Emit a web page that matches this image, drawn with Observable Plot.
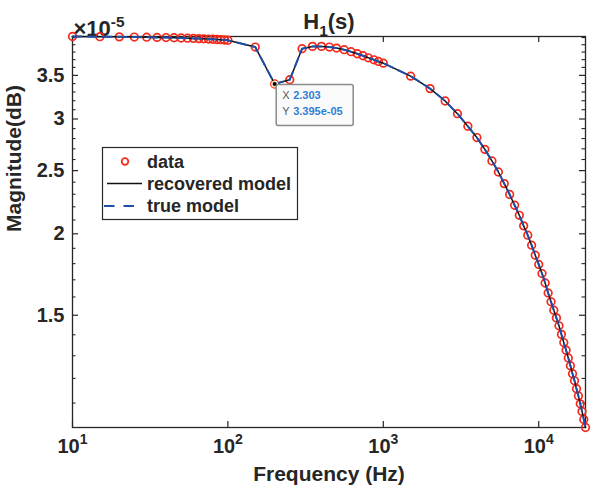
<!DOCTYPE html>
<html><head><meta charset="utf-8">
<script src="https://cdn.jsdelivr.net/npm/d3@7"></script>
<script src="https://cdn.jsdelivr.net/npm/@observablehq/plot@0.6"></script>
<style>
body{margin:0;background:#fff;}
#chart{width:591px;height:493px;}
</style></head><body><div id="chart"></div>
<script>
// Frequencies (Hz)
const freq = [10,15,20,25,30,35,40,45,50,55,60,65,70,75,80,85,90,95,100,
  150,200,250,
  300,350,400,450,500,560,620,680,740,800,870,930,1000,
  1500,2000,2500,3000,3500,4000,4500,5000,5500,6000,6500,7000,7500,8000,8500,9000,9500,10000,
  10500,11000,11500,12000,12500,13000,13500,14000,14500,15000,15500,16000,16500,17000,17500,18000,18500,19000,19500,20000];
// Magnitude (x 1e-5)
const mag = [4.015,4.012,4.010,4.007,4.005,4.002,4.000,3.997,3.994,3.991,3.988,3.985,3.982,3.979,3.976,3.973,3.970,3.966,3.962,
  3.868,3.395,3.447,
  3.846,3.877,3.877,3.868,3.854,3.832,3.805,3.778,3.751,3.724,3.698,3.676,3.654,
  3.490,3.340,3.197,3.057,2.924,2.810,2.695,2.587,2.488,2.388,2.298,2.212,2.135,2.057,1.990,1.921,1.854,1.795,
  1.738,1.681,1.623,1.573,1.527,1.486,1.445,1.402,1.362,1.326,1.290,1.255,1.220,1.190,1.157,1.128,1.097,1.068,1.038,1.009];
const recovered = mag.slice();
const trueModel = mag.slice();

const xTicks = [10, 100, 1000, 10000];
const xTickLabels = ["10^{1}", "10^{2}", "10^{3}", "10^{4}"];
const yTicks = [1.5, 2, 2.5, 3, 3.5];
const yTickLabels = ["1.5", "2", "2.5", "3", "3.5"];
const yMinorTicks = [1.1,1.2,1.3,1.4,1.6,1.7,1.8,1.9,2.1,2.2,2.3,2.4,2.6,2.7,2.8,2.9,3.1,3.2,3.3,3.4,3.6,3.7,3.8,3.9,4.0];
const legendLabels = ["data", "recovered model", "true model"];
const titleText = "H_{1}(s)";
const exponentText = "×10^{-5}";
const xLabel = "Frequency (Hz)";
const yLabel = "Magnitude(dB)";
const tipFreq = 200, tipMag = 3.395;
const tipLines = [["X", "2.303"], ["Y", "3.395e-05"]];

const W = 591, H = 493, mL = 72, mR = 6, mT = 36, mB = 66;
const plotW = W - mL - mR, plotH = H - mT - mB;
const axisColor = "#262626";
const red = "#f2291b", blue = "#1f4ea6", black = "#111111";
const font = "'Liberation Sans', Arial, Helvetica, sans-serif";

const rows = freq.map((f, i) => ({f, m: mag[i], rec: recovered[i], tru: trueModel[i]}));

const plot = Plot.plot({
  width: W, height: H,
  marginLeft: mL, marginRight: mR, marginTop: mT, marginBottom: mB,
  style: {fontFamily: font, fontWeight: "bold", background: "white", color: axisColor},
  x: {type: "log", domain: [10, 20000], axis: null},
  y: {type: "log", domain: d3.extent(mag), axis: null},
  marks: [
    Plot.frame({stroke: axisColor, strokeWidth: 1.3}),
    Plot.tickX(xTicks, {x: d => d, insetTop: plotH - 6, stroke: axisColor, strokeWidth: 1.2}),
    Plot.tickX(xTicks, {x: d => d, insetBottom: plotH - 6, stroke: axisColor, strokeWidth: 1.2}),
    Plot.tickY(yTicks, {y: d => d, insetRight: plotW - 6, stroke: axisColor, strokeWidth: 1.2}),
    Plot.tickY(yTicks, {y: d => d, insetLeft: plotW - 6, stroke: axisColor, strokeWidth: 1.2}),
    Plot.tickY(yMinorTicks, {y: d => d, insetRight: plotW - 3.5, stroke: axisColor, strokeWidth: 1.1}),
    Plot.tickY(yMinorTicks, {y: d => d, insetLeft: plotW - 3.5, stroke: axisColor, strokeWidth: 1.1}),
    Plot.text(xTicks, {x: d => d, text: (d, i) => xTickLabels[i], frameAnchor: "bottom", dy: 25, fontSize: 20, fontWeight: "bold", fill: axisColor}),
    Plot.text(yTicks, {y: d => d, text: (d, i) => yTickLabels[i], frameAnchor: "left", dx: -8, textAnchor: "end", fontSize: 20, fontWeight: "bold", fill: axisColor}),
    Plot.text([xLabel], {frameAnchor: "bottom", dy: 53, fontSize: 21, fontWeight: "bold", fill: axisColor}),
    Plot.text([yLabel], {frameAnchor: "left", dx: -58, rotate: -90, fontSize: 21, fontWeight: "bold", fill: axisColor}),
    Plot.text([titleText], {frameAnchor: "top", dy: -23, fontSize: 22, fontWeight: "bold", fill: axisColor}),
    Plot.text([exponentText], {frameAnchor: "top-left", dx: 1, dy: -16, textAnchor: "start", fontSize: 22, fontWeight: "bold", fill: axisColor}),
    Plot.dot(rows, {x: "f", y: "m", r: 3.8, stroke: red, strokeWidth: 1.7, fill: "none"}),
    Plot.line(rows, {x: "f", y: "rec", stroke: black, strokeWidth: 1.5}),
    Plot.line(rows, {x: "f", y: "tru", stroke: blue, strokeWidth: 2, strokeDasharray: "9,6"}),
    Plot.dot([0], {x: () => tipFreq, y: () => tipMag, r: 3.6, fill: "#f4dfc0", stroke: "none"}),
    Plot.dot([0], {x: () => tipFreq, y: () => tipMag, r: 2, fill: "#000"})
  ]
});

// superscript / subscript markup -> tspans
const NS = "http://www.w3.org/2000/svg";
plot.querySelectorAll("text").forEach(t => {
  const s = t.textContent;
  if (!/[\^_]\{/.test(s)) return;
  t.textContent = "";
  const re = /([\^_])\{([^}]*)\}/g;
  let last = 0, m, pending = 0;
  const add = (txt, attrs) => {
    const ts = document.createElementNS(NS, "tspan");
    ts.textContent = txt;
    for (const k in attrs) ts.setAttribute(k, attrs[k]);
    t.appendChild(ts);
  };
  while ((m = re.exec(s))) {
    if (m.index > last) add(s.slice(last, m.index), pending ? {dy: pending + "em"} : {}), pending = 0;
    const k = m[1] === "^" ? -0.6 : 0.45;
    add(m[2], {dy: k + "em", "font-size": "70%"});
    pending = -k * 0.7;
    last = re.lastIndex;
  }
  if (last < s.length) add(s.slice(last), pending ? {dy: pending + "em"} : {});
});

const svg = d3.select(plot);
// Legend
const lg = svg.append("g").attr("font-family", font).attr("font-weight", "bold").attr("font-size", 18).attr("fill", axisColor);
lg.append("rect").attr("x", 102.5).attr("y", 147.5).attr("width", 195).attr("height", 72)
  .attr("fill", "white").attr("stroke", axisColor).attr("stroke-width", 1.2);
const ly = [161.5, 183.5, 206];
lg.append("circle").attr("cx", 125).attr("cy", ly[0]).attr("r", 3.3).attr("fill", "none").attr("stroke", red).attr("stroke-width", 1.7);
lg.append("line").attr("x1", 107).attr("x2", 142).attr("y1", ly[1]).attr("y2", ly[1]).attr("stroke", black).attr("stroke-width", 1.5);
lg.append("line").attr("x1", 104).attr("x2", 142).attr("y1", ly[2]).attr("y2", ly[2]).attr("stroke", blue).attr("stroke-width", 2).attr("stroke-dasharray", "10.5,9");
legendLabels.forEach((lab, i) => {
  lg.append("text").attr("x", 147).attr("y", ly[i]).attr("dy", "0.35em").attr("text-anchor", "start").text(lab);
});

// Data tip
const px = plot.scale("x").apply(tipFreq), py = plot.scale("y").apply(tipMag);
const tg = svg.append("g").attr("font-family", font).attr("font-size", 11);
tg.append("rect").attr("x", px + 2).attr("y", py + 1).attr("width", 77).attr("height", 41).attr("rx", 2)
  .attr("fill", "#fafafa").attr("stroke", "#8a8a8a").attr("stroke-width", 1.5);
tipLines.forEach(([k, v], i) => {
  const t = tg.append("text").attr("x", px + 8).attr("y", py + 16 + i * 15.5).attr("text-anchor", "start");
  t.append("tspan").attr("fill", "#5a5a5a").attr("font-weight", "normal").text(k);
  t.append("tspan").attr("x", px + 19).attr("fill", "#2f7fd6").attr("font-weight", "bold").text(v);
});

document.getElementById("chart").appendChild(plot);
</script>
</body></html>
